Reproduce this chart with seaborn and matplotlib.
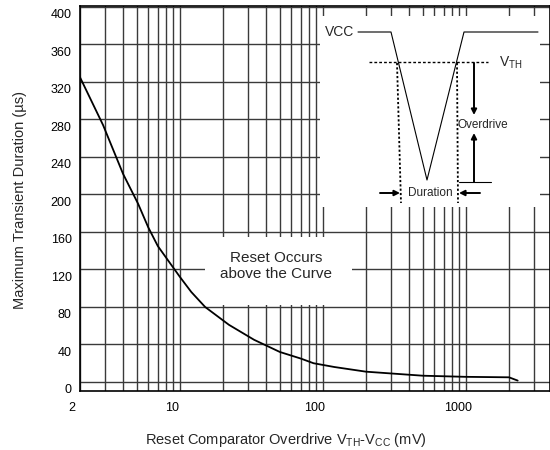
import numpy as np
import pandas as pd
import matplotlib
matplotlib.use("Agg")
import matplotlib.pyplot as plt
import matplotlib.transforms as mtransforms
from matplotlib.patches import Rectangle
from matplotlib.ticker import LogLocator, FixedLocator, NullFormatter
import seaborn as sns

# curve
overdrive_mv = [2, 2.9, 4, 5.1, 6, 7, 8.5, 10, 12, 15, 22, 33, 50, 70, 86, 120, 200, 500, 1000, 2000, 2300]
duration_us = [325, 274, 222, 190, 165, 145, 127, 112, 96, 80, 61, 45, 32, 25, 20, 16, 11, 6.7, 5.5, 5, 1.5]

x_labels = [2, 10, 100, 1000]
y_ticks = list(range(0, 401, 40))

sns.set_theme(style="white")
plt.rcParams['font.family'] = ['Liberation Sans', 'DejaVu Sans']
plt.rcParams['mathtext.fontset'] = 'custom'
plt.rcParams['mathtext.rm'] = 'Liberation Sans'
plt.rcParams['mathtext.it'] = 'Liberation Sans'

W, H = 550, 450
fig = plt.figure(figsize=(W / 100, H / 100), dpi=100)


def fbox(x0, y0, x1, y1):
    # pixel box (top-left origin) -> figure fraction rect
    return [x0 / W, 1 - y1 / H, (x1 - x0) / W, (y1 - y0) / H]


ax = fig.add_axes(fbox(80, 6, 550, 391))
df = pd.DataFrame({"mv": overdrive_mv, "us": duration_us})
sns.lineplot(data=df, x="mv", y="us", ax=ax, color="black", lw=1.3, zorder=3)

ax.set_xscale("log")
ax.set_xlim(2, 3870)
ax.set_ylim(-9.6, 401)
ax.xaxis.set_major_locator(FixedLocator(x_labels))
ax.xaxis.set_minor_locator(LogLocator(base=10, subs=np.arange(2, 10)))
ax.xaxis.set_minor_formatter(NullFormatter())
ax.set_xticklabels([str(v) for v in x_labels])
ax.set_yticks(y_ticks)
ax.grid(True, which="both", color="#3a3a3a", lw=1.0)
ax.tick_params(axis="both", which="both", length=0, labelsize=9, colors="black")
ax.tick_params(axis="x", pad=8)
ax.tick_params(axis="y", pad=6)
for s in ax.spines.values():
    s.set_color("black")
    s.set_linewidth(1.2)

# tick labels in the original sit a little off their gridlines
dy = mtransforms.ScaledTranslation(0, -7 / 100, fig.dpi_scale_trans)
for lab in ax.get_yticklabels():
    lab.set_transform(lab.get_transform() + dy)
dx = mtransforms.ScaledTranslation(-8 / 100, 0, fig.dpi_scale_trans)
for lab in ax.get_xticklabels():
    lab.set_transform(lab.get_transform() + dx)

ax.set_xlabel(r"Reset Comparator Overdrive V$_{\mathrm{TH}}$-V$_{\mathrm{CC}}$ (mV)", fontsize=10.5)
ax.set_ylabel("Maximum Transient Duration (µs)", fontsize=10.5)
ax.xaxis.set_label_coords(0.438, -0.105)
ax.yaxis.set_label_coords(-0.113, 0.496)

# white box behind the note
ax.add_patch(Rectangle((205 / W, 1 - 305 / H), 147 / W, 68 / H, transform=fig.transFigure,
                       facecolor="white", edgecolor="none", zorder=1))
ax.text(276 / W, 1 - 266 / H, "Reset Occurs\nabove the Curve", transform=fig.transFigure,
        ha="center", va="center", fontsize=11, linespacing=1.25, zorder=4)

# inset sketch, drawn in pixel units
ins = fig.add_axes(fbox(320, 16, 540, 207))
ins.set_facecolor("white")
ins.set_xlim(320, 540)
ins.set_ylim(207, 16)
ins.set_xticks([])
ins.set_yticks([])
for s in ins.spines.values():
    s.set_visible(False)

ins.plot([358, 391, 427, 464, 538], [32, 32, 180, 32, 32], color="black", lw=0.8)
ins.text(325, 32, "VCC", ha="left", va="center", fontsize=10)
ins.plot([369, 488], [62, 62], color="black", lw=1.0, ls=(0, (2, 1.5)))
ins.text(499, 63, r"V$_{\mathrm{TH}}$", ha="left", va="center", fontsize=10)
ins.plot([397, 401], [63, 203], color="black", lw=1.3, ls=(0, (1.2, 1.2)))
ins.plot([457, 458], [63, 203], color="black", lw=1.3, ls=(0, (1.2, 1.2)))
ins.plot([459, 491], [182, 182], color="black", lw=0.8)

arrow = dict(arrowstyle="-|>", lw=1.4, color="black", mutation_scale=8, shrinkA=0, shrinkB=0)
ins.annotate("", xy=(474, 115), xytext=(474, 63), arrowprops=arrow)
ins.annotate("", xy=(474, 133), xytext=(474, 182), arrowprops=arrow)
ins.annotate("", xy=(400, 193), xytext=(380, 193), arrowprops=arrow)
ins.annotate("", xy=(459, 193), xytext=(480, 193), arrowprops=arrow)
ins.text(483, 125, "Overdrive", ha="center", va="center", fontsize=8.5)
ins.text(430, 193, "Duration", ha="center", va="center", fontsize=8.5)

fig.savefig("out.png", dpi=100)
